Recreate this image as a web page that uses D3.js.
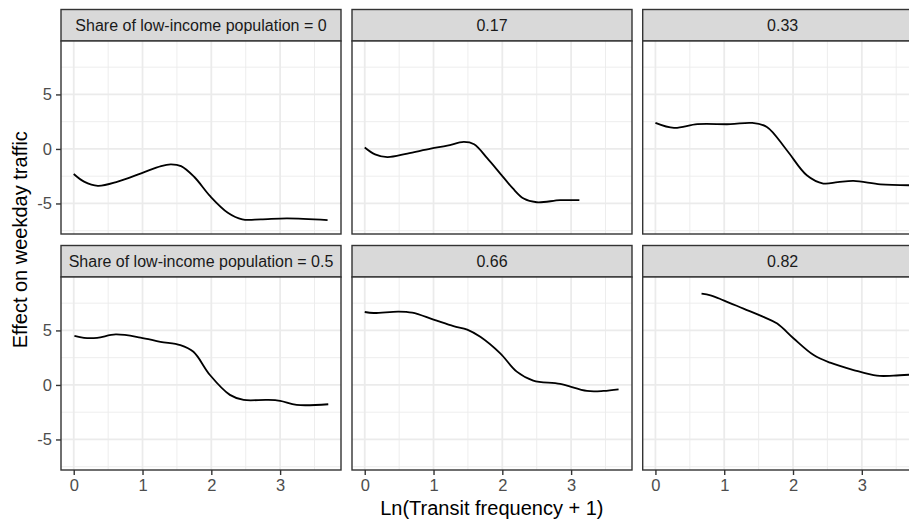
<!DOCTYPE html>
<html>
<head>
<meta charset="utf-8">
<script src="https://cdn.jsdelivr.net/npm/d3@7"></script>
<style>
body { margin: 0; background: #fff; }
svg { display: block; font-family: "Liberation Sans", Arial, sans-serif; }
</style>
</head>
<body>
<script>
// facet labels
var stripLabels = ["Share of low-income population = 0", "0.17", "0.33",
                   "Share of low-income population = 0.5", "0.66", "0.82"];

// curve values, one x/y pair per facet
var x0 = [0.0, 0.15, 0.35, 0.64, 0.98, 1.27, 1.41, 1.56, 1.75, 1.99, 2.24, 2.45, 2.72, 3.1, 3.69];
var y0 = [-2.3, -3.0, -3.38, -3.0, -2.24, -1.57, -1.42, -1.57, -2.55, -4.38, -5.85, -6.46, -6.46, -6.37, -6.52];

var x1 = [0.0, 0.15, 0.33, 0.62, 0.96, 1.2, 1.44, 1.59, 1.78, 1.97, 2.15, 2.31, 2.5, 2.84, 3.12];
var y1 = [0.13, -0.5, -0.75, -0.42, 0.03, 0.3, 0.64, 0.43, -0.85, -2.26, -3.6, -4.55, -4.89, -4.7, -4.7];

var x2 = [0.0, 0.27, 0.61, 1.09, 1.4, 1.62, 1.91, 2.2, 2.44, 2.65, 2.88, 3.27, 3.7];
var y2 = [2.39, 1.93, 2.27, 2.27, 2.39, 2.02, -0.12, -2.41, -3.17, -3.05, -2.93, -3.24, -3.33];

var x3 = [0.01, 0.15, 0.34, 0.61, 0.97, 1.26, 1.55, 1.74, 1.98, 2.27, 2.47, 2.81, 3.0, 3.24, 3.7];
var y3 = [4.5, 4.32, 4.32, 4.63, 4.35, 3.96, 3.65, 3.04, 0.91, -0.91, -1.37, -1.37, -1.46, -1.83, -1.77];

var x4 = [0.0, 0.13, 0.49, 0.69, 1.0, 1.29, 1.49, 1.68, 1.97, 2.21, 2.45, 2.84, 3.23, 3.47, 3.69];
var y4 = [6.69, 6.6, 6.73, 6.63, 6.0, 5.39, 5.08, 4.41, 2.89, 1.22, 0.4, 0.09, -0.55, -0.55, -0.4];

var x5 = [0.67, 0.8, 0.99, 1.28, 1.57, 1.77, 2.01, 2.3, 2.54, 2.88, 3.22, 3.46, 3.7];
var y5 = [8.37, 8.22, 7.76, 7.0, 6.24, 5.63, 4.26, 2.74, 2.04, 1.37, 0.85, 0.85, 0.94];

var xsAll = [x0, x1, x2, x3, x4, x5];
var ysAll = [y0, y1, y2, y3, y4, y5];

var xTicks = [0, 1, 2, 3];
var xMinor = [0.5, 1.5, 2.5, 3.5];
var yTicks = [-5, 0, 5];
var yMinor = [-7.5, -2.5, 2.5, 7.5];

var W = 909, H = 521;
var colLeft = [61, 352, 642.7], rowTop = [9.5, 245.5];
var pw = 280, ph = 193, stripH = 31.5;

var svg = d3.select("body").append("svg").attr("width", W).attr("height", H);

var x = d3.scaleLinear().domain([-0.185, 3.885]).range([0, pw]);
var y = d3.scaleLinear().domain([-7.8, 9.9]).range([ph, 0]);

var line = d3.line()
  .x(function(d) { return x(d[0]); })
  .y(function(d) { return y(d[1]); })
  .curve(d3.curveCatmullRom.alpha(0.5));

// plain hyphen for negatives, like R does
var fmt = function(d) { return String(d); };

stripLabels.forEach(function(lab, i) {
  var r = Math.floor(i / 3), c = i % 3;
  var g = svg.append("g")
    .attr("transform", "translate(" + colLeft[c] + "," + (rowTop[r] + stripH) + ")");

  // strip
  g.append("rect").attr("x", 0).attr("y", -stripH).attr("width", pw).attr("height", stripH)
    .attr("fill", "#d9d9d9").attr("stroke", "#333333").attr("stroke-width", 1.4);
  g.append("text").attr("x", pw / 2).attr("y", -stripH / 2 + 5.5)
    .attr("text-anchor", "middle").attr("font-size", 16).attr("fill", "#1a1a1a").text(lab);

  // panel background and grid
  g.append("rect").attr("width", pw).attr("height", ph).attr("fill", "#fff");
  g.selectAll(".gxm").data(xMinor).enter().append("line")
    .attr("x1", x).attr("x2", x).attr("y1", 0).attr("y2", ph)
    .attr("stroke", "#ebebeb").attr("stroke-width", 0.9);
  g.selectAll(".gym").data(yMinor).enter().append("line")
    .attr("y1", y).attr("y2", y).attr("x1", 0).attr("x2", pw)
    .attr("stroke", "#ebebeb").attr("stroke-width", 0.9);
  g.selectAll(".gx").data(xTicks).enter().append("line")
    .attr("x1", x).attr("x2", x).attr("y1", 0).attr("y2", ph)
    .attr("stroke", "#ebebeb").attr("stroke-width", 1.8);
  g.selectAll(".gy").data(yTicks).enter().append("line")
    .attr("y1", y).attr("y2", y).attr("x1", 0).attr("x2", pw)
    .attr("stroke", "#ebebeb").attr("stroke-width", 1.8);

  // curve
  var pts = xsAll[i].map(function(v, k) { return [v, ysAll[i][k]]; });
  g.append("path").datum(pts).attr("d", line)
    .attr("fill", "none").attr("stroke", "#000").attr("stroke-width", 1.8);

  g.append("rect").attr("width", pw).attr("height", ph)
    .attr("fill", "none").attr("stroke", "#333333").attr("stroke-width", 1.4);

  // axes
  if (c === 0) {
    var ya = g.append("g").call(d3.axisLeft(y).tickValues(yTicks).tickFormat(fmt).tickSize(5).tickPadding(4));
    ya.select(".domain").remove();
    ya.selectAll("line").attr("stroke", "#333333").attr("stroke-width", 1.4);
    ya.selectAll("text").attr("font-size", 16.5).attr("fill", "#4d4d4d")
      .attr("font-family", "Liberation Sans, Arial, sans-serif");
  }
  if (r === 1) {
    var xa = g.append("g").attr("transform", "translate(0," + ph + ")")
      .call(d3.axisBottom(x).tickValues(xTicks).tickFormat(fmt).tickSize(5).tickPadding(4));
    xa.select(".domain").remove();
    xa.selectAll("line").attr("stroke", "#333333").attr("stroke-width", 1.4);
    xa.selectAll("text").attr("font-size", 16.5).attr("fill", "#4d4d4d")
      .attr("font-family", "Liberation Sans, Arial, sans-serif");
  }
});

// axis titles
svg.append("text").attr("x", (colLeft[0] + colLeft[2] + pw) / 2).attr("y", 515)
  .attr("text-anchor", "middle").attr("font-size", 20).attr("fill", "#000")
  .text("Ln(Transit frequency + 1)");
svg.append("text").attr("transform", "translate(27," + (rowTop[0] + (rowTop[1] + stripH + ph - rowTop[0]) / 2) + ") rotate(-90)")
  .attr("text-anchor", "middle").attr("font-size", 20).attr("fill", "#000")
  .text("Effect on weekday traffic");
</script>
</body>
</html>
